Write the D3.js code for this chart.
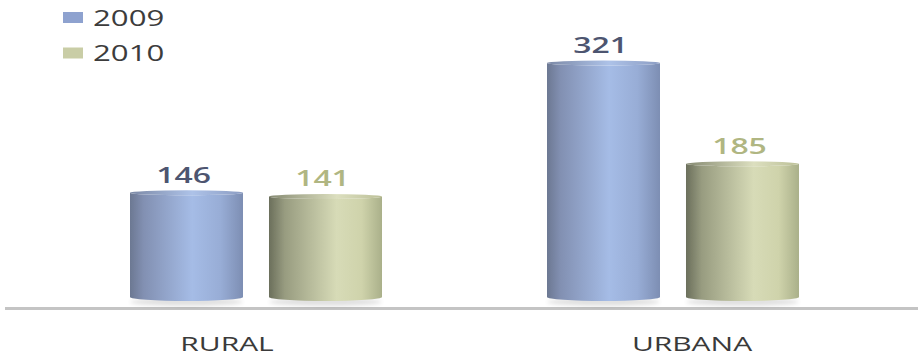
<!DOCTYPE html>
<html>
<head>
<meta charset="utf-8">
<script src="https://cdn.jsdelivr.net/npm/d3@7"></script>
<style>
  html, body { margin: 0; padding: 0; background: #ffffff; }
  svg { display: block; }
  text { font-family: "Open Sans", "DejaVu Sans", sans-serif; }
</style>
</head>
<body>
<svg id="chart" width="919" height="355"></svg>
<script>
// Data
const categories = ["RURAL", "URBANA"];
const seriesNames = ["2009", "2010"];
const values2009 = [146, 321];
const values2010 = [141, 185];

const seriesValues = [values2009, values2010];
const rows = categories.map((c, i) => ({
  category: c,
  items: seriesNames.map((s, j) => ({ series: s, value: seriesValues[j][i] }))
}));

const baseline = 301;
const stretch = 1.45; // glyphs are drawn horizontally widened

const svg = d3.select("#chart");
const defs = svg.append("defs");

// Cylinder shading for each series
const shades = {
  "2009": [[0, "#6c7892"], [0.12, "#8290b2"], [0.55, "#a5bce6"], [0.8, "#98add6"], [1, "#7d8eb3"]],
  "2010": [[0, "#6b6f5c"], [0.14, "#989c80"], [0.6, "#d7dbb7"], [0.82, "#cfd3ab"], [1, "#aab08a"]]
};
const capShades = {
  "2009": [[0, "#7c89a6"], [0.55, "#adc2e8"], [1, "#8c9dc3"]],
  "2010": [[0, "#868a72"], [0.6, "#dcdfbf"], [1, "#bcc098"]]
};
function addGradient(id, stops) {
  const g = defs.append("linearGradient").attr("id", id)
    .attr("x1", "0%").attr("x2", "100%").attr("y1", "0%").attr("y2", "0%");
  stops.forEach(([o, c]) => g.append("stop").attr("offset", o).attr("stop-color", c));
}
seriesNames.forEach(s => {
  addGradient("body-" + s, shades[s]);
  addGradient("cap-" + s, capShades[s]);
});
const soft = defs.append("filter").attr("id", "soft")
  .attr("x", "-10%").attr("y", "-10%").attr("width", "120%").attr("height", "120%");
soft.append("feGaussianBlur").attr("stdDeviation", 0.6);
const shadow = defs.append("filter").attr("id", "shadow")
  .attr("x", "-10%").attr("y", "-50%").attr("width", "120%").attr("height", "200%");
shadow.append("feGaussianBlur").attr("stdDeviation", 2);

const legendFill = { "2009": "#8ea2cf", "2010": "#c9cda6" };
const labelFill = { "2009": "#4d5570", "2010": "#b0b682" };

// Scales
const x0 = d3.scaleBand().domain(categories).range([130, 799]).paddingInner(165 / 417).paddingOuter(0);
const x1 = d3.scaleBand().domain(seriesNames).range([0, x0.bandwidth()]).paddingInner(0.187).paddingOuter(0);
const y = d3.scaleLinear().domain([0, 321]).range([baseline, 63]);
const xLabel = d3.scalePoint().domain(categories).range([227, 692]);

// Category axis line
svg.append("line")
  .attr("x1", 5).attr("x2", 918)
  .attr("y1", 308.5).attr("y2", 308.5)
  .attr("stroke", "#c4c4c4").attr("stroke-width", 3);

const capRy = 2.5, baseRy = 4;

const groups = svg.append("g").selectAll("g.cat")
  .data(rows).join("g")
  .attr("class", "cat")
  .attr("transform", d => `translate(${x0(d.category)},0)`);

const bars = groups.selectAll("g.bar")
  .data(d => d.items).join("g")
  .attr("class", "bar");

// soft floor shadow
bars.append("ellipse")
  .attr("cx", d => x1(d.series) + x1.bandwidth() / 2)
  .attr("cy", baseline + 1)
  .attr("rx", x1.bandwidth() / 2)
  .attr("ry", baseRy)
  .attr("fill", "#000").attr("opacity", 0.12)
  .attr("filter", "url(#shadow)");

// cylinder body
bars.append("path")
  .attr("d", d => {
    const l = x1(d.series), r = l + x1.bandwidth(), rx = x1.bandwidth() / 2;
    const t = y(d.value), b = baseline - baseRy;
    return `M${l},${t} L${l},${b} A${rx},${baseRy} 0 0 0 ${r},${b} L${r},${t} A${rx},${capRy} 0 0 1 ${l},${t} Z`;
  })
  .attr("fill", d => `url(#body-${d.series})`)
  .attr("filter", "url(#soft)");

// cylinder top
bars.append("ellipse")
  .attr("cx", d => x1(d.series) + x1.bandwidth() / 2)
  .attr("cy", d => y(d.value))
  .attr("rx", x1.bandwidth() / 2)
  .attr("ry", capRy)
  .attr("fill", d => `url(#cap-${d.series})`)
  .attr("filter", "url(#soft)");

// value labels
bars.append("g")
  .attr("transform", d => `translate(${x1(d.series) + x1.bandwidth() / 2 - 3},${y(d.value) - 10}) scale(${stretch},1)`)
  .append("text")
  .attr("text-anchor", "middle")
  .attr("font-size", 22)
  .attr("font-weight", 600)
  .attr("fill", d => labelFill[d.series])
  .text(d => d.value);

// category labels
svg.append("g").selectAll("g.lab")
  .data(categories).join("g")
  .attr("class", "lab")
  .attr("transform", d => `translate(${xLabel(d)},351) scale(${stretch + 0.05},1)`)
  .append("text")
  .attr("text-anchor", "middle")
  .attr("font-size", 20)
  .attr("fill", "#3a3a3a")
  .text(d => d);

// legend
const legend = svg.append("g").selectAll("g.leg")
  .data(seriesNames).join("g")
  .attr("class", "leg")
  .attr("transform", (d, i) => `translate(63,${12 + i * 35.5})`);
legend.append("rect")
  .attr("width", 20).attr("height", 11)
  .attr("fill", d => legendFill[d]);
legend.append("g")
  .attr("transform", `translate(30,13.5) scale(${stretch},1)`)
  .append("text")
  .attr("font-size", 21.5)
  .attr("font-weight", 500)
  .attr("fill", "#3c3c3c")
  .text(d => d);
</script>
</body>
</html>
